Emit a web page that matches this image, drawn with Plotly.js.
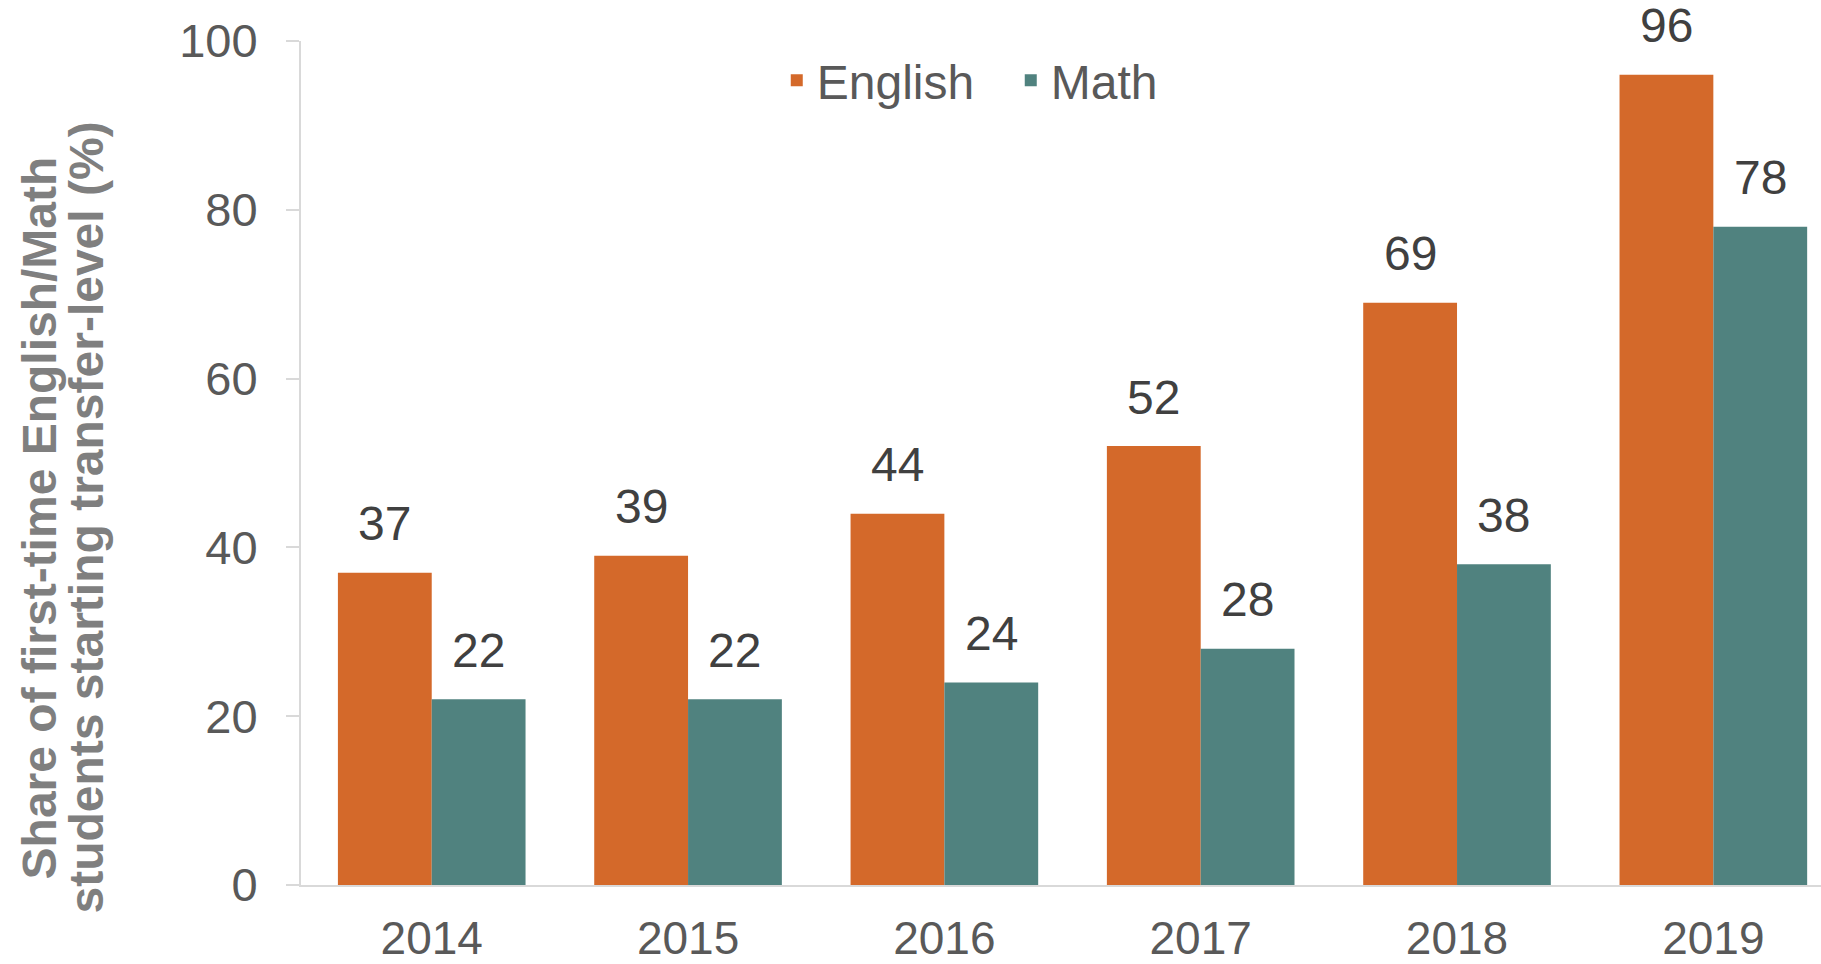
<!DOCTYPE html>
<html>
<head>
<meta charset="utf-8">
<script src="https://cdn.plot.ly/plotly-3.0.1.min.js"></script>
<style>html,body{margin:0;padding:0;background:#fff;}#chart{width:1821px;height:964px;}</style>
</head>
<body>
<div id="chart"></div>
<script>
const years = ['2014', '2015', '2016', '2017', '2018', '2019'];
const english = [37, 39, 44, 52, 69, 96];
const math = [22, 22, 24, 28, 38, 78];
const seriesNames = ['English', 'Math'];
const yTicks = [0, 20, 40, 60, 80, 100];
const yTitleLines = ['Share of first-time English/Math', 'students starting transfer-level (%)'];

const orange = '#D4692A';
const teal = '#50827F';
const font = 'Liberation Sans, Arial, sans-serif';
const tickColor = '#595959';
const labelColor = '#404040';

const traces = [
  {type: 'bar', name: seriesNames[0], x: years, y: english, marker: {color: orange}, hoverinfo: 'x+y'},
  {type: 'bar', name: seriesNames[1], x: years, y: math, marker: {color: teal}, hoverinfo: 'x+y'}
];

const barHalf = 0.183;
const annotations = [];
years.forEach((yr, i) => {
  annotations.push({x: i - barHalf, y: english[i], xref: 'x', yref: 'y', text: String(english[i]), showarrow: false, yanchor: 'middle', yshift: 49, font: {family: font, size: 48, color: labelColor}});
  annotations.push({x: i + barHalf, y: math[i], xref: 'x', yref: 'y', text: String(math[i]), showarrow: false, yanchor: 'middle', yshift: 49, font: {family: font, size: 48, color: labelColor}});
});
annotations.push({x: -0.172, y: 0.435, xref: 'paper', yref: 'paper', text: '<b>' + yTitleLines[0] + '</b>', textangle: -90, showarrow: false, xanchor: 'center', yanchor: 'middle', font: {family: font, size: 48, color: '#7f7f7f'}});
annotations.push({x: -0.141, y: 0.435, xref: 'paper', yref: 'paper', text: '<b>' + yTitleLines[1] + '</b>', textangle: -90, showarrow: false, xanchor: 'center', yanchor: 'middle', font: {family: font, size: 48, color: '#7f7f7f'}});

const layout = {
  width: 1821, height: 964,
  margin: {l: 301, r: 0, t: 41, b: 79, pad: 0},
  paper_bgcolor: '#fff', plot_bgcolor: '#fff',
  font: {family: font, size: 47, color: tickColor},
  barmode: 'group', bargap: 0.268, bargroupgap: 0,
  showlegend: true,
  legend: {orientation: 'h', x: 0.313, xanchor: 'left', y: 0.953, yanchor: 'middle', font: {family: font, size: 48, color: tickColor}, entrywidth: 189, entrywidthmode: 'pixels', bgcolor: 'rgba(0,0,0,0)'},
  xaxis: {type: 'category', range: [-0.51, 5.42], showline: true, linecolor: '#d9d9d9', linewidth: 2, ticks: '', showgrid: false, zeroline: false, tickfont: {family: font, size: 46, color: tickColor}, ticklabelstandoff: 12, fixedrange: true},
  yaxis: {range: [0, 100], tickvals: yTicks, showline: true, linecolor: '#d9d9d9', linewidth: 2, ticks: 'outside', ticklen: 13, tickcolor: '#d9d9d9', tickwidth: 2, showgrid: false, zeroline: false, tickfont: {family: font, size: 47, color: tickColor}, ticklabelstandoff: 19, fixedrange: true},
  annotations: annotations
};

Plotly.newPlot('chart', traces, layout, {displayModeBar: false, responsive: false});
</script>
</body>
</html>
